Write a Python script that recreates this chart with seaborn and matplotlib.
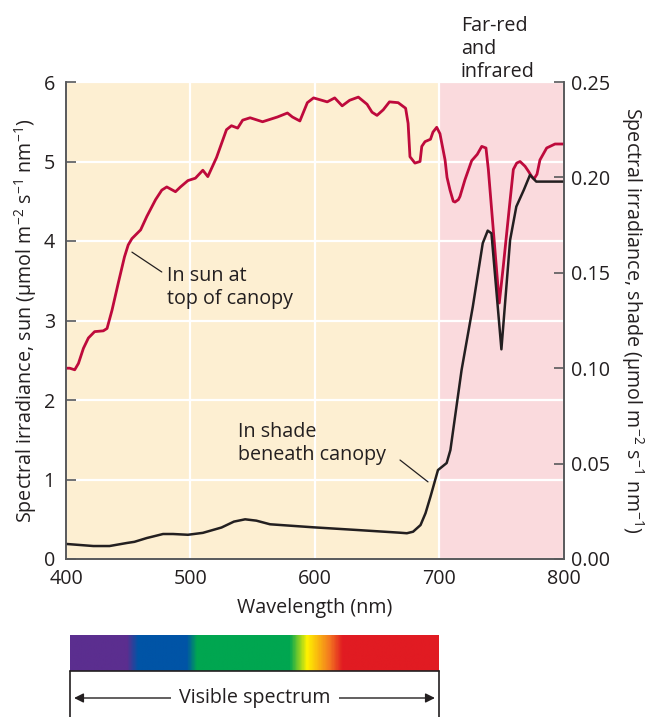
import numpy as np
import pandas as pd
import matplotlib
matplotlib.use("Agg")
import matplotlib.pyplot as plt
from matplotlib.colors import LinearSegmentedColormap
import seaborn as sns

# sun spectrum (left axis)
sun_nm = [400, 403, 407, 410, 414, 418, 423, 430, 433, 437, 442, 447, 450, 453,
          460, 465, 472, 477, 481, 488, 492, 498, 504, 510, 514, 521, 529, 533,
          538, 542, 548, 558, 570, 578, 582, 588, 594, 599, 610, 616, 622, 628,
          635, 642, 646, 650, 655, 660, 667, 673, 675, 676.5, 680.5, 684.6, 686,
          688.6, 693, 695, 698, 700.6, 704.7, 706.3, 708.7, 711.3, 712.7, 715.4,
          716.7, 720.7, 726.1, 730.6, 734.2, 737.6, 739.5, 748.3, 751.5, 756.9,
          759.6, 762.3, 765, 769, 771.6, 774.4, 776.2, 778.6, 781, 786.4, 793.1,
          800]
sun_val = [2.40, 2.40, 2.38, 2.46, 2.65, 2.78, 2.86, 2.87, 2.90, 3.13, 3.47, 3.80,
           3.95, 4.03, 4.14, 4.31, 4.52, 4.64, 4.68, 4.62, 4.68, 4.76, 4.79, 4.89,
           4.81, 5.05, 5.40, 5.45, 5.42, 5.52, 5.55, 5.50, 5.56, 5.61, 5.56, 5.51,
           5.74, 5.80, 5.75, 5.80, 5.70, 5.77, 5.81, 5.72, 5.62, 5.58, 5.65, 5.75,
           5.74, 5.67, 5.48, 5.06, 4.98, 5.00, 5.19, 5.25, 5.28, 5.37, 5.43, 5.35,
           5.02, 4.80, 4.64, 4.50, 4.49, 4.52, 4.56, 4.77, 5.01, 5.09, 5.19, 5.17,
           4.90, 3.22, 3.68, 4.50, 4.90, 4.98, 5.00, 4.94, 4.88, 4.81, 4.78, 4.84,
           5.02, 5.17, 5.22, 5.22]

# shade spectrum (right axis)
shade_nm = [400, 422, 435, 449, 455, 465, 470, 478, 486, 498, 510, 525, 535, 544,
            553, 564, 599, 634, 668, 674, 679, 685, 689, 693, 699, 706, 709, 718,
            727, 735, 739, 742, 750, 757, 762, 768, 773, 778, 800]
shade_val = [0.0079, 0.0068, 0.0068, 0.0084, 0.0090, 0.0110, 0.0118, 0.0131,
             0.0131, 0.0127, 0.0137, 0.0165, 0.0196, 0.0208, 0.0201, 0.0182,
             0.0166, 0.0152, 0.0138, 0.0135, 0.0143, 0.0178, 0.0240, 0.0327,
             0.0466, 0.0503, 0.0571, 0.0991, 0.1322, 0.1655, 0.1721, 0.1707,
             0.1099, 0.1672, 0.1847, 0.1934, 0.2013, 0.1978, 0.1978]

# visible spectrum colour stops
spec_nm = [400, 446, 455, 495, 503, 579, 593, 611, 622, 700]
spec_colors = ["#5B2E8F", "#5B2E8F", "#0054A6", "#0054A6", "#00A650",
               "#00A650", "#FFF200", "#F47B20", "#E11B22", "#E11B22"]

left_ticks = [0, 1, 2, 3, 4, 5, 6]
right_ticks = [0.00, 0.05, 0.10, 0.15, 0.20, 0.25]
x_ticks = [400, 500, 600, 700, 800]

sun = pd.DataFrame({"nm": sun_nm, "val": sun_val})
shade = pd.DataFrame({"nm": shade_nm, "val": shade_val})

sns.set_theme(style="white")
plt.rcParams["font.family"] = ["Open Sans", "DejaVu Sans"]
plt.rcParams["mathtext.default"] = "regular"
txt = "#231F20"
spine_c = "#58595B"
fs = 14.2

fig = plt.figure(figsize=(6.52, 7.17), dpi=100)
ax = fig.add_axes([66 / 652, 1 - 559 / 717, 497.6 / 652, 477 / 717])

ax.axvspan(400, 700, color="#FDEFD2", zorder=0, lw=0)
ax.axvspan(700, 800, color="#FADADD", zorder=0, lw=0)
ax.set_axisbelow("line")
ax.grid(True, color="white", lw=1.6)

sns.lineplot(data=sun, x="nm", y="val", ax=ax, color="#BE0A3C", lw=2.0,
             zorder=3, estimator=None, sort=False, solid_joinstyle="round")
ax.set_xlim(400, 800)
ax.set_ylim(0, 6)
ax.set_xticks(x_ticks)
ax.set_yticks(left_ticks)
ax.set_xlabel("Wavelength (nm)", fontsize=fs, color=txt, labelpad=7)
ax.set_ylabel("Spectral irradiance, sun (µmol m$^{-2}$ s$^{-1}$ nm$^{-1}$)",
              fontsize=fs, color=txt, labelpad=3)

ax2 = ax.twinx()
sns.lineplot(data=shade, x="nm", y="val", ax=ax2, color="#231F20", lw=1.8,
             estimator=None, sort=False, solid_joinstyle="round")
ax2.set_ylim(0, 0.25)
ax2.set_yticks(right_ticks)
ax2.set_yticklabels([f"{v:.2f}" for v in right_ticks])
ax2.set_ylabel("Spectral irradiance, shade (µmol m$^{-2}$ s$^{-1}$ nm$^{-1}$)",
               fontsize=fs, color=txt, rotation=270, labelpad=26)

for a in (ax, ax2):
    for s in a.spines.values():
        s.set_color(spine_c)
        s.set_linewidth(1.2)
    a.tick_params(direction="in", length=7, width=1.2, color=spine_c,
                  labelsize=fs, labelcolor=txt)
ax.spines["top"].set_visible(False)
ax2.spines["top"].set_visible(False)
ax.tick_params(axis="y", pad=8)
ax.tick_params(axis="x", pad=7)
ax2.tick_params(axis="y", pad=5)

# annotations
ax.plot([453, 477], [3.86, 3.61], color=txt, lw=0.9, zorder=4)
ax.text(481.5, 3.42, "In sun at\ntop of canopy", fontsize=fs, color=txt,
        ha="left", va="center", linespacing=1.2)
ax.plot([668.5, 691], [1.245, 0.97], color=txt, lw=0.9, zorder=4)
ax.text(538, 1.45, "In shade\nbeneath canopy", fontsize=fs, color=txt,
        ha="left", va="center", linespacing=1.2)
ax.annotate("Far-red\nand\ninfrared", xy=(717.5, 1.0),
            xycoords=("data", "axes fraction"), xytext=(0, 0),
            textcoords="offset points", fontsize=fs, color=txt,
            ha="left", va="bottom", linespacing=1.2, annotation_clip=False)

# visible spectrum bar
bx = fig.add_axes([70 / 652, 0, 369 / 652, 82 / 717])
cmap = LinearSegmentedColormap.from_list(
    "vis", [((n - 400) / 300, c) for n, c in zip(spec_nm, spec_colors)])
grad = np.linspace(400, 700, 600)[None, :]
bx.imshow(grad, cmap=cmap, vmin=400, vmax=700, extent=(400, 700, 46, 82),
          aspect="auto", interpolation="bilinear")
bx.set_xlim(400, 700)
bx.set_ylim(0, 82)
bx.axis("off")
bx.plot([400, 700], [46, 46], color=txt, lw=1.2, clip_on=False)
bx.plot([400, 400], [0, 46], color=txt, lw=1.2, clip_on=False)
bx.plot([700, 700], [0, 46], color=txt, lw=1.2, clip_on=False)
bx.annotate("", xy=(403.3, 19), xytext=(696.7, 19),
            arrowprops=dict(arrowstyle="<|-|>", color=txt, lw=1.0,
                            mutation_scale=14, shrinkA=0, shrinkB=0))
bx.text(550.4, 19, "Visible spectrum", fontsize=fs, color=txt, ha="center",
        va="center", bbox=dict(facecolor="white", edgecolor="none", pad=6))

fig.savefig("out.png", dpi=100)
